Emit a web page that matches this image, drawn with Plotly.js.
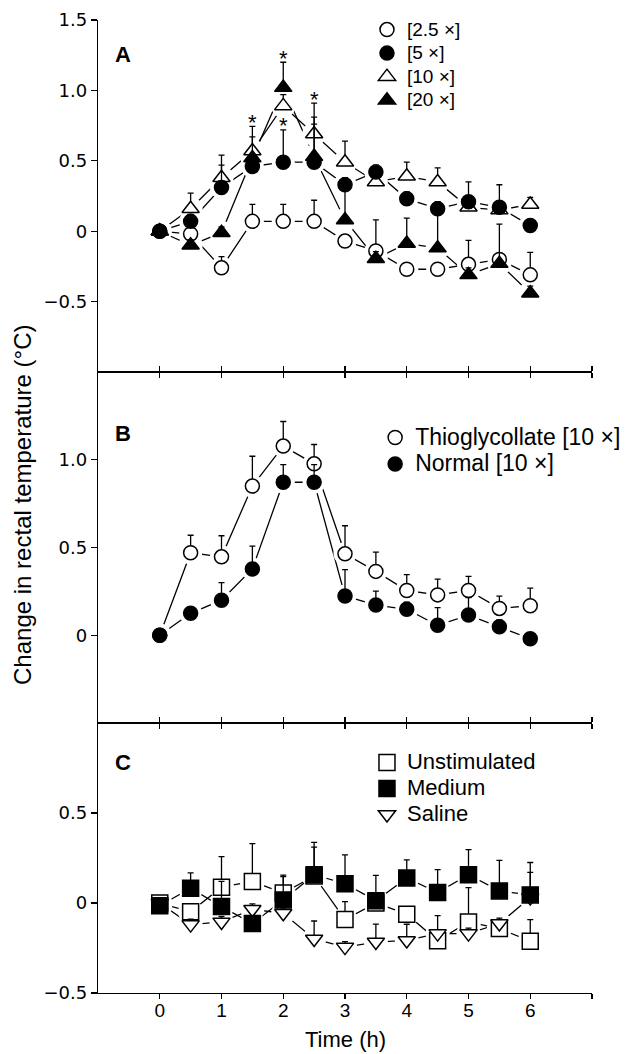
<!DOCTYPE html>
<html><head><meta charset="utf-8">
<script src="https://cdn.plot.ly/plotly-3.0.1.min.js"></script>
<style>html,body{margin:0;padding:0;background:#fff}</style>
</head><body><div id="chart" style="width:644px;height:1054px"></div>
<script>
// ---- data ----
const time = [0, 0.5, 1, 1.5, 2, 2.5, 3, 3.5, 4, 4.5, 5, 5.5, 6];
const xTickVals = [0, 1, 2, 3, 4, 5, 6, 7];
const xTickText = ["0", "1", "2", "3", "4", "5", "6", ""];

// Panel A: dose of supernatant
const a25 = [0, -0.02, -0.26, 0.07, 0.07, 0.07, -0.07, -0.14, -0.27, -0.27, -0.235, -0.2, -0.31];
const a25Err = [0, 0.03, 0.08, 0.12, 0.12, 0.15, 0.03, 0.22, 0.03, 0.03, 0.17, 0.03, 0.16];
const a5 = [0, 0.07, 0.31, 0.46, 0.49, 0.49, 0.33, 0.42, 0.23, 0.16, 0.21, 0.17, 0.04];
const a5Err = [0, 0.05, 0.16, 0.05, 0.23, 0.27, 0.05, 0.05, 0.05, 0.05, 0.14, 0.16, 0.04];
const a10 = [0, 0.16, 0.38, 0.57, 0.89, 0.69, 0.49, 0.35, 0.39, 0.35, 0.17, 0.15, 0.19];
const a10Err = [0, 0.11, 0.16, 0.1, 0.08, 0.12, 0.15, 0.04, 0.1, 0.1, 0.04, 0.04, 0.05];
const a20 = [0, -0.1, -0.01, 0.52, 1.02, 0.53, 0.08, -0.195, -0.087, -0.12, -0.31, -0.23, -0.44];
const a20Err = [0, 0.04, 0.04, 0.225, 0.18, 0.38, 0.25, 0.05, 0.18, 0.28, 0.05, 0.28, 0.05];
const labelsA = ["[2.5 \u00d7]", "[5 \u00d7]", "[10 \u00d7]", "[20 \u00d7]"];
// significance markers: [series index in labelsA order, time index]
const sigA = [[3, 3], [3, 4], [1, 4], [3, 5]];

// Panel B
const thio = [0, 0.47, 0.447, 0.85, 1.078, 0.977, 0.464, 0.364, 0.255, 0.23, 0.255, 0.153, 0.168];
const thioErr = [0, 0.1, 0.12, 0.17, 0.14, 0.11, 0.16, 0.11, 0.09, 0.09, 0.08, 0.07, 0.1];
const normal = [0, 0.125, 0.2, 0.378, 0.872, 0.872, 0.224, 0.172, 0.148, 0.057, 0.115, 0.048, -0.02];
const normalErr = [0, 0.03, 0.1, 0.13, 0.1, 0.1, 0.15, 0.08, 0.04, 0.1, 0.1, 0.04, 0.03];
const labelsB = ["Thioglycollate [10 \u00d7]", "Normal [10 \u00d7]"];

// Panel C
const unstim = [0, -0.049, 0.088, 0.12, 0.055, 0.15, -0.092, 0.0, -0.062, -0.21, -0.105, -0.142, -0.212];
const unstimErr = [0, 0.03, 0.17, 0.21, 0.1, 0.16, 0.1, 0.03, 0.03, 0.03, 0.19, 0.03, 0.12];
const medium = [-0.015, 0.082, -0.02, -0.114, 0.017, 0.157, 0.107, 0.013, 0.139, 0.058, 0.157, 0.067, 0.045];
const mediumErr = [0, 0.085, 0.14, 0.03, 0.13, 0.18, 0.16, 0.14, 0.1, 0.127, 0.14, 0.17, 0.18];
const saline = [0, -0.12, -0.105, -0.035, -0.057, -0.2, -0.245, -0.217, -0.208, -0.17, -0.17, -0.114, 0.03];
const salineErr = [0, 0.03, 0.03, 0.03, 0.03, 0.1, 0.03, 0.1, 0.09, 0.1, 0.03, 0.03, 0.14];
const labelsC = ["Unstimulated", "Medium", "Saline"];

const yTicksA = [1.5, 1.0, 0.5, 0, -0.5];
const yTextA = ["1.5", "1.0", "0.5", "0", "\u22120.5"];
const yTicksB = [1.0, 0.5, 0];
const yTextB = ["1.0", "0.5", "0"];
const yTicksC = [0.5, 0, -0.5];
const yTextC = ["0.5", "0", "\u22120.5"];

// ---- build ----
const FONT = "Liberation Sans, Arial, Helvetica, sans-serif";
const TICKFONT = "DejaVu Sans, sans-serif";
function big(txt, px) { return '<span style="font-size:' + px + 'px">' + txt + '</span>'; }

function panel(series, xa, ya, legendId, legendPx) {
  const lines = [], halos = [], marks = [];
  series.forEach(s => {
    lines.push({x: time, y: s.y, xaxis: xa, yaxis: ya, mode: 'lines',
      line: {color: 'black', width: 1.3}, showlegend: false, hoverinfo: 'skip'});
    halos.push({x: time, y: s.y, xaxis: xa, yaxis: ya, mode: 'markers',
      marker: {symbol: 'circle', size: s.size + 9, color: 'white', line: {width: 0}},
      showlegend: false, hoverinfo: 'skip'});
  });
  series.forEach(s => {
    marks.push({x: time, y: s.y, xaxis: xa, yaxis: ya, mode: 'markers', name: big(s.name, legendPx),
      legend: legendId, legendrank: 1000 + s.rank,
      marker: {symbol: s.symbol, size: s.size, color: s.filled ? 'black' : 'white',
        line: {color: 'black', width: 1.5}},
      error_y: {type: 'data', symmetric: false, array: s.err, arrayminus: s.err.map(() => 0),
        color: 'black', thickness: 1.3, width: 3}});
  });
  return lines.concat(halos, marks);
}

const sA = {
  a25: {name: labelsA[0], rank: 0, y: a25, err: a25Err, symbol: 'circle', size: 14, filled: false},
  a5: {name: labelsA[1], rank: 1, y: a5, err: a5Err, symbol: 'circle', size: 14, filled: true},
  a10: {name: labelsA[2], rank: 2, y: a10, err: a10Err, symbol: 'triangle-up', size: 15, filled: false},
  a20: {name: labelsA[3], rank: 3, y: a20, err: a20Err, symbol: 'triangle-up', size: 15, filled: true}
};
const seriesA = [sA.a25, sA.a10, sA.a5, sA.a20];
const seriesB = [
  {name: labelsB[0], rank: 0, y: thio, err: thioErr, symbol: 'circle', size: 14, filled: false},
  {name: labelsB[1], rank: 1, y: normal, err: normalErr, symbol: 'circle', size: 14, filled: true}
];
const seriesC = [
  {name: labelsC[0], rank: 0, y: unstim, err: unstimErr, symbol: 'square', size: 16, filled: false},
  {name: labelsC[2], rank: 2, y: saline, err: salineErr, symbol: 'triangle-down', size: 15, filled: false},
  {name: labelsC[1], rank: 1, y: medium, err: mediumErr, symbol: 'square', size: 16, filled: true}
];

let traces = [];
traces = traces.concat(panel(seriesA, 'x', 'y', 'legend', 19));
traces = traces.concat(panel(seriesB, 'x2', 'y2', 'legend2', 23));
traces = traces.concat(panel(seriesC, 'x3', 'y3', 'legend3', 22));

// significance asterisks (placed on top of the error-bar caps)
const sigOrder = [sA.a25, sA.a5, sA.a10, sA.a20];
const sigAnn = sigA.map(s => ({
  x: time[s[1]], y: sigOrder[s[0]].y[s[1]] + sigOrder[s[0]].err[s[1]],
  xref: 'x', yref: 'y', text: '*', showarrow: false, xanchor: 'center', yanchor: 'middle',
  yshift: 4, font: {family: FONT, size: 22, color: 'black'}
}));

const axLine = {showline: true, linecolor: 'black', linewidth: 1.3, showgrid: false,
  zeroline: false, ticks: 'outside', ticklen: 6, tickwidth: 1.3, tickcolor: 'black'};
const xBase = Object.assign({}, axLine, {range: [-1, 7], tickmode: 'array',
  tickvals: xTickVals, ticktext: xTickText, ticklen: 5,
  tickfont: {family: FONT, size: 19, color: 'black'}});

const dC = 0.2775, dB = 0.6382;
const legendBase = {xanchor: 'left', yanchor: 'top', bgcolor: 'rgba(0,0,0,0)',
  itemwidth: 30, tracegroupgap: 0, traceorder: 'normal'};
const yTickFont = {family: TICKFONT, size: 18, color: 'black'};
const letterFont = {family: FONT, size: 22, color: 'black', weight: 'bold'};

const layout = {
  width: 644, height: 1054,
  margin: {l: 98, r: 52, t: 20, b: 61, pad: 0},
  paper_bgcolor: 'white', plot_bgcolor: 'white',
  font: {family: FONT, color: 'black'},
  showlegend: true,
  xaxis: Object.assign({}, xBase, {anchor: 'y', showticklabels: false}),
  xaxis2: Object.assign({}, xBase, {anchor: 'y2', showticklabels: false, mirror: 'ticks'}),
  xaxis3: Object.assign({}, xBase, {anchor: 'y3', showticklabels: true, mirror: 'ticks',
    ticklabelstandoff: -5}),
  yaxis: Object.assign({}, axLine, {anchor: 'x', domain: [dB, 1], range: [-1.0, 1.5],
    tickmode: 'array', tickvals: yTicksA, ticktext: yTextA, tickfont: yTickFont}),
  yaxis2: Object.assign({}, axLine, {anchor: 'x2', domain: [dC, dB], range: [-0.5, 1.5],
    tickmode: 'array', tickvals: yTicksB, ticktext: yTextB, tickfont: yTickFont}),
  yaxis3: Object.assign({}, axLine, {anchor: 'x3', domain: [0, dC], range: [-0.5, 1.0],
    tickmode: 'array', tickvals: yTicksC, ticktext: yTextC, tickfont: yTickFont}),
  legend: Object.assign({}, legendBase, {x: 0.5445, y: 1.0074, font: {family: FONT, size: 15.8, color: 'black'}}),
  legend2: Object.assign({}, legendBase, {x: 0.561, y: 0.5897, font: {family: FONT, size: 18.1, color: 'black'}}),
  legend3: Object.assign({}, legendBase, {x: 0.5445, y: 0.2554, font: {family: FONT, size: 17.7, color: 'black'}}),
  annotations: sigAnn.concat([
    {text: 'A', xref: 'paper', yref: 'paper', x: 0.0506, y: 0.9645, showarrow: false,
      font: letterFont, xanchor: 'center', yanchor: 'middle'},
    {text: 'B', xref: 'paper', yref: 'paper', x: 0.0506, y: 0.5755, showarrow: false,
      font: letterFont, xanchor: 'center', yanchor: 'middle'},
    {text: 'C', xref: 'paper', yref: 'paper', x: 0.0506, y: 0.2364, showarrow: false,
      font: letterFont, xanchor: 'center', yanchor: 'middle'},
    {text: 'Change in rectal temperature (\u00b0C)', xref: 'paper', yref: 'paper',
      x: -0.154, y: 0.5015, textangle: -90, showarrow: false, xanchor: 'center', yanchor: 'middle',
      font: {family: FONT, size: 24, color: 'black'}},
    {text: 'Time (h)', xref: 'paper', yref: 'paper', x: 0.5, y: -0.0483, showarrow: false,
      xanchor: 'center', yanchor: 'middle', font: {family: FONT, size: 22, color: 'black'}}
  ])
};

Plotly.newPlot('chart', traces, layout, {displayModeBar: false, staticPlot: true});
</script></body></html>
